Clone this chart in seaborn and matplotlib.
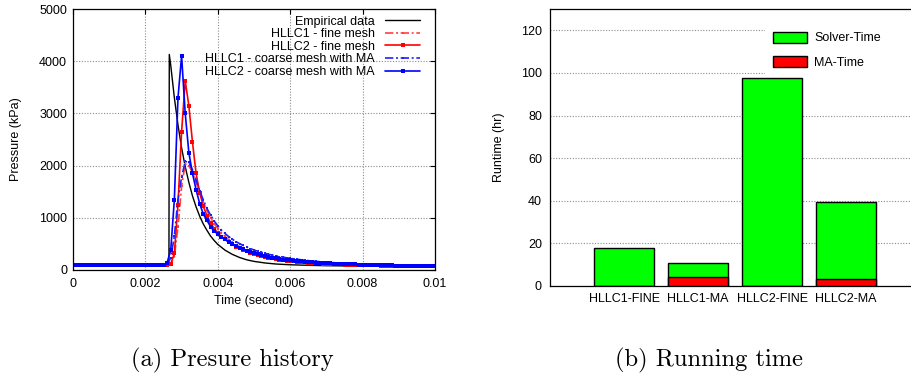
import matplotlib
matplotlib.use("Agg")
import matplotlib.pyplot as plt
import seaborn as sns
import pandas as pd
from matplotlib.patches import Patch

# ---------------- data: pressure history ----------------
# sampling grid of the simulations (s)
T = [round(i * 1e-4, 4) for i in range(101)]

# empirical curve (own time points)
T_emp = [0.0, 0.0026, 0.00265, 0.00266, 0.0027, 0.0028, 0.0029, 0.003, 0.0031, 0.0032,
         0.0033, 0.0034, 0.0035, 0.0036, 0.0037, 0.0038, 0.0039, 0.004, 0.0042, 0.0044,
         0.0046, 0.0048, 0.005, 0.0053, 0.0056, 0.006, 0.0065, 0.007, 0.008, 0.009, 0.01]
P_emp = [90, 90, 90, 4130, 3920, 3300, 2780, 2340, 1980, 1680,
         1420, 1210, 1030, 880, 760, 650, 565, 490, 380, 300,
         240, 195, 165, 135, 115, 100, 90, 82, 75, 68, 62]

# HLLC1 - fine mesh
P_hllc1_fine = [90] * 27 + [
    110, 260, 820, 1600, 2030, 2000, 1870, 1680, 1480, 1300,
    1140, 1005, 890, 795, 712, 642, 583, 532, 488, 449,
    415, 385, 358, 334, 312, 292, 274, 258, 243, 230,
    218, 207, 197, 188, 180, 172, 165, 158, 152, 146,
    141, 136, 131, 127, 123, 119, 116, 113, 110, 107,
    104, 102, 100, 98, 96, 94, 92, 90, 89, 87,
    86, 84, 83, 81, 80, 79, 78, 77, 76, 75,
    74, 73, 72, 71]

# HLLC2 - fine mesh
P_hllc2_fine = [90] * 27 + [
    115, 320, 1250, 2650, 3620, 3150, 2450, 1850, 1480, 1220,
    1040, 900, 795, 710, 640, 585, 535, 490, 450, 415,
    384, 356, 331, 308, 288, 270, 253, 238, 224, 212,
    201, 190, 181, 172, 165, 158, 152, 146, 141, 136,
    131, 127, 123, 119, 116, 113, 110, 107, 104, 102,
    100, 98, 96, 94, 92, 90, 89, 87, 86, 84,
    83, 81, 80, 79, 78, 76, 75, 74, 73, 72,
    71, 70, 69, 68]

# HLLC1 - coarse mesh with MA
P_hllc1_ma = [90] * 26 + [
    115, 230, 650, 1350, 1780, 2080, 2060, 1920, 1720, 1520,
    1340, 1180, 1050, 940, 845, 765, 700, 640, 590, 545,
    505, 470, 438, 410, 384, 360, 339, 320, 302, 286,
    271, 258, 246, 234, 224, 214, 205, 196, 188, 181,
    174, 167, 161, 155, 150, 145, 140, 136, 132, 128,
    124, 121, 118, 115, 112, 109, 107, 104, 102, 100,
    98, 96, 94, 92, 90, 88, 87, 85, 84, 82,
    81, 79, 78, 77, 75]

# HLLC2 - coarse mesh with MA
P_hllc2_ma = [90] * 25 + [
    95, 140, 380, 1350, 3300, 4100, 3000, 2250, 1850, 1540,
    1270, 1070, 950, 830, 745, 685, 630, 585, 540, 500,
    462, 428, 398, 370, 345, 322, 300, 281, 264, 248,
    234, 221, 210, 200, 191, 183, 176, 169, 163, 157,
    152, 147, 142, 138, 134, 130, 126, 123, 120, 117,
    114, 111, 108, 106, 104, 102, 100, 98, 96, 94,
    92, 90, 89, 87, 86, 84, 83, 81, 80, 78,
    77, 75, 74, 72, 71, 70]

x_ticks = [0, 0.002, 0.004, 0.006, 0.008, 0.01]
x_tick_labels = ["0", "0.002", "0.004", "0.006", "0.008", "0.01"]
y_ticks = [0, 1000, 2000, 3000, 4000, 5000]

# ---------------- data: running time ----------------
cases = ["HLLC1-FINE", "HLLC1-MA", "HLLC2-FINE", "HLLC2-MA"]
solver_time = [17.7, 6.3, 97.4, 36.0]
ma_time = [0.0, 4.4, 0.0, 3.3]
runtime_ticks = [0, 20, 40, 60, 80, 100, 120]

# ---------------- style ----------------
sns.set_theme(style="white")
plt.rcParams['font.family'] = ['Liberation Sans', 'DejaVu Sans']
plt.rcParams['font.size'] = 9
plt.rcParams['axes.edgecolor'] = 'black'
plt.rcParams['axes.linewidth'] = 0.9
plt.rcParams['xtick.color'] = 'black'
plt.rcParams['ytick.color'] = 'black'
plt.rcParams['text.color'] = 'black'
plt.rcParams['axes.labelcolor'] = 'black'

fig = plt.figure(figsize=(9.11, 3.78), dpi=100)
ax1 = fig.add_axes([73 / 911, 1 - 270 / 378, 362 / 911, 261 / 378])
ax2 = fig.add_axes([550 / 911, 1 - 286 / 378, 370 / 911, 277 / 378])

# ---------------- left panel ----------------
dashdot = (0, (5, 1.6, 1.2, 1.6))
sns.lineplot(x=T_emp, y=P_emp, ax=ax1, color='black', linewidth=1.0,
             label="Empirical data", sort=False)
sns.lineplot(x=T, y=P_hllc1_fine, ax=ax1, color='#ff4040', linewidth=1.2,
             linestyle=dashdot, marker='s', markersize=1.6, markeredgewidth=0,
             label="HLLC1 - fine mesh")
sns.lineplot(x=T, y=P_hllc2_fine, ax=ax1, color='#ff0000', linewidth=1.2,
             marker='s', markersize=2.8, markeredgewidth=0,
             label="HLLC2 - fine mesh")
sns.lineplot(x=T, y=P_hllc1_ma, ax=ax1, color='#2020ff', linewidth=1.2,
             linestyle=dashdot, marker='s', markersize=1.6, markeredgewidth=0,
             label="HLLC1 - coarse mesh with MA")
sns.lineplot(x=T, y=P_hllc2_ma, ax=ax1, color='#0000ff', linewidth=1.2,
             marker='s', markersize=3.0, markeredgewidth=0,
             label="HLLC2 - coarse mesh with MA")

ax1.set_xlim(0, 0.01)
ax1.set_ylim(0, 5000)
ax1.set_xticks(x_ticks)
ax1.set_xticklabels(x_tick_labels)
ax1.set_yticks(y_ticks)
ax1.set_yticklabels([str(v) for v in y_ticks])
ax1.grid(True, color='#8c8c8c', linestyle=(0, (1, 1.5)), linewidth=0.8)
ax1.set_axisbelow(True)
ax1.tick_params(direction='in', length=3.5, width=0.8, top=True, right=True,
                labelsize=9)
ax1.tick_params(axis='x', pad=5.5)
ax1.tick_params(axis='y', pad=4.3)
for s in ax1.spines.values():
    s.set_visible(True)
    s.set_color('black')
    s.set_linewidth(0.9)
ax1.set_xlabel("Time (second)", fontsize=9)
ax1.set_ylabel("Pressure (kPa)", fontsize=9)
ax1.xaxis.set_label_coords(0.5, -0.096)
ax1.yaxis.set_label_coords(-0.141, 0.5)

leg1 = ax1.legend(loc='upper right', bbox_to_anchor=(0.9586, 0.975),
                  markerfirst=False, frameon=False, borderpad=0, borderaxespad=0,
                  handlelength=2.8, handletextpad=0.8, labelspacing=0.05,
                  fontsize=9)

# ---------------- right panel ----------------
total_time = [s + m for s, m in zip(solver_time, ma_time)]
df = pd.DataFrame({"case": cases, "total": total_time, "ma": ma_time})
sns.barplot(data=df, x="case", y="total", ax=ax2, color='#00ff00', saturation=1,
            edgecolor='black', linewidth=1.0, width=0.8, errorbar=None, zorder=3)
sns.barplot(data=df, x="case", y="ma", ax=ax2, color='#ff0000', saturation=1,
            edgecolor='black', linewidth=1.0, width=0.8, errorbar=None, zorder=3)

ax2.set_xlim(-1, 4)
ax2.set_ylim(0, 130)
ax2.set_yticks(runtime_ticks)
ax2.set_yticklabels([str(v) for v in runtime_ticks])
ax2.yaxis.grid(True, color='#8c8c8c', linestyle=(0, (1, 1.5)), linewidth=0.8)
ax2.xaxis.grid(False)
ax2.set_axisbelow(True)
ax2.tick_params(axis='y', direction='in', length=3.5, width=0.8, pad=5.8, labelsize=9)
ax2.tick_params(axis='x', length=0, pad=5.0, labelsize=9)
for s in ax2.spines.values():
    s.set_visible(True)
    s.set_color('black')
    s.set_linewidth(0.9)
ax2.set_xlabel("")
ax2.set_ylabel("Runtime (hr)", fontsize=9)
ax2.yaxis.set_label_coords(-0.1216, 0.5)

handles = [Patch(facecolor='#00ff00', edgecolor='black', linewidth=1.0, label="Solver-Time"),
           Patch(facecolor='#ff0000', edgecolor='black', linewidth=1.0, label="MA-Time")]
leg2 = ax2.legend(handles=handles, loc='upper left',
                  bbox_to_anchor=(0.581, 0.0, 0.45, 0.948), mode='expand',
                  frameon=True, framealpha=1, fancybox=False, facecolor='white',
                  handlelength=2.7, handleheight=1.0, labelspacing=0.95,
                  handletextpad=0.6, borderpad=0.65, borderaxespad=0, fontsize=9)
leg2.get_frame().set_linewidth(0)
leg2.set_zorder(5)

# ---------------- captions ----------------
fig.text(232 / 911, 1 - 360 / 378, "(a) Presure history", ha='center', va='center',
         fontfamily='cmr10', fontsize=17.7)
fig.text(709 / 911, 1 - 360 / 378, "(b) Running time", ha='center', va='center',
         fontfamily='cmr10', fontsize=17.7)

fig.savefig("out.png", dpi=100)
